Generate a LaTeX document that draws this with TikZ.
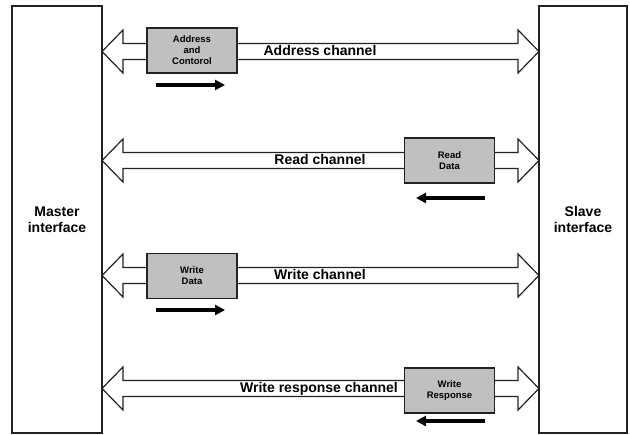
\documentclass[tikz,border=0pt]{standalone}
\usepackage{fontspec}
\setmainfont{Liberation Sans}
\usetikzlibrary{arrows.meta}
\definecolor{boxgray}{HTML}{C0C0C0}
\definecolor{edge}{HTML}{222222}
\tikzset{
  iface/.style={draw=edge, line width=1.3pt, fill=white, minimum width=90pt, minimum height=427pt, align=center, font=\fontsize{14}{16}\selectfont\bfseries},
  chan/.style={draw=edge, line width=1.2pt, fill=white, line join=miter},
  unit/.style={draw=edge, line width=1.3pt, fill=boxgray, minimum width=90pt, minimum height=45pt, align=center, font=\fontsize{9.5}{11}\selectfont\bfseries},
  clabel/.style={anchor=base, inner sep=0pt, font=\fontsize{14}{16}\selectfont\bfseries},
  flow/.style={line width=3.2pt, -{Triangle[length=10pt,width=10pt]}}
}
\newcommand{\dblarrow}[1]{%
  \draw[chan] (102,#1) -- (123,{#1-21.5}) -- (123,{#1-8}) -- (518,{#1-8}) -- (518,{#1-21.5}) -- (539,#1)
    -- (518,{#1+21.5}) -- (518,{#1+8}) -- (123,{#1+8}) -- (123,{#1+21.5}) -- cycle;}
\begin{document}
\begin{tikzpicture}[x=1pt,y=-1pt]
\useasboundingbox (0,0) rectangle (630,435);
\dblarrow{51.5}
\dblarrow{160.5}
\dblarrow{275.5}
\dblarrow{388.5}
\node[iface] (master) at (57,219.5) {Master\\interface};
\node[iface, minimum width=88pt] (slave) at (583,219.5) {Slave\\interface};
\node[unit] (addr) at (192,50.5) {Address\\and\\Contorol};
\node[unit] (read) at (449.5,160.5) {Read\\Data};
\node[unit] (wdata) at (192,276) {Write\\Data};
\node[unit] (wresp) at (449.5,390.5) {Write\\Response};
\node[clabel] (l1) at (320,56) {Address channel};
\node[clabel] (l2) at (320,165) {Read channel};
\node[clabel] (l3) at (320,280) {Write channel};
\node[clabel] (l4) at (319,393) {Write response channel};
\coordinate (a1s) at (156,85); \coordinate (a1e) at (225,85);
\coordinate (a2s) at (485,198); \coordinate (a2e) at (416,198);
\coordinate (a3s) at (156,310); \coordinate (a3e) at (225,310);
\coordinate (a4s) at (485,421); \coordinate (a4e) at (416,421);
\draw[flow] (a1s) -- (a1e);
\draw[flow] (a2s) -- (a2e);
\draw[flow] (a3s) -- (a3e);
\draw[flow] (a4s) -- (a4e);
\end{tikzpicture}
\end{document}
